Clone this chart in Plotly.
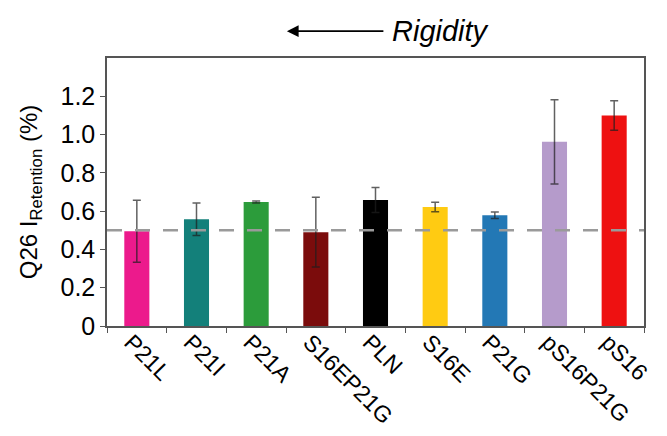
import plotly.graph_objects as go

# Q26 retention intensity per PLN variant
variants = ["P21L", "P21I", "P21A", "S16EP21G", "PLN", "S16E", "P21G", "pS16P21G", "pS16"]
retention = [0.495, 0.558, 0.648, 0.490, 0.658, 0.622, 0.578, 0.962, 1.100]
retention_err = [0.162, 0.085, 0.005, 0.182, 0.065, 0.025, 0.017, 0.220, 0.077]
bar_colors = ["#EC1A8C", "#13807A", "#2C9C3B", "#7B0C0C", "#000000",
              "#FFCB12", "#2378B5", "#B59BCB", "#EE1111"]
reference_level = 0.5

y_ticks = [0, 0.2, 0.4, 0.6, 0.8, 1.0, 1.2]
y_tick_labels = ["0", "0.2", "0.4", "0.6", "0.8", "1.0", "1.2"]

font_family = "Arial, Liberation Sans, Helvetica, sans-serif"
axis_color = "#555555"

fig = go.Figure()
fig.add_trace(go.Bar(
    x=variants,
    y=retention,
    marker=dict(color=bar_colors, line=dict(width=0)),
    width=0.42,
    error_y=dict(type="data", array=retention_err, visible=True,
                 color="rgba(30,30,30,0.7)", thickness=1.5, width=4),
    showlegend=False,
))

# dashed reference level across the full plot width
fig.add_shape(type="line", xref="paper", x0=0, x1=1, yref="y",
              y0=reference_level, y1=reference_level,
              line=dict(color="#9a9a9a", width=2.5, dash="15px,13px"))

# rigidity direction arrow and label above the plot
fig.add_annotation(xref="paper", yref="paper", x=0.335, y=1.10,
                   ax=98, ay=0, axref="pixel", ayref="pixel",
                   text="", showarrow=True, arrowhead=2, arrowsize=1.3,
                   arrowwidth=1.8, arrowcolor="#000000")
fig.add_annotation(xref="paper", yref="paper", x=0.527, y=1.10,
                   xanchor="left", yanchor="middle", showarrow=False,
                   text="<i>Rigidity</i>",
                   font=dict(family=font_family, size=29, color="#000000"))

fig.update_layout(
    width=667, height=436,
    margin=dict(l=107, r=23, t=58, b=110),
    plot_bgcolor="white", paper_bgcolor="white",
    font=dict(family=font_family, size=24, color="#000000"),
)
fig.update_xaxes(
    range=[-0.5, 8.5], automargin=False,
    showline=True, linecolor=axis_color, linewidth=1.5, mirror=True,
    ticks="outside", tickson="boundaries", ticklen=5, tickcolor=axis_color,
    tickangle=45, tickfont=dict(size=23, color="#000000"),
    ticklabelstandoff=-8, ticklabelshift=-6,
    showgrid=False,
)
fig.update_yaxes(
    range=[0, 1.40], automargin=False,
    tickvals=y_ticks, ticktext=y_tick_labels,
    showline=True, linecolor=axis_color, linewidth=1.5, mirror=True,
    ticks="outside", ticklen=5, tickcolor=axis_color,
    tickfont=dict(size=25, color="#000000"),
    showgrid=False, zeroline=False,
    title=dict(text="Q26 I<sub>Retention</sub> (%)",
               font=dict(size=24, color="#000000"), standoff=16),
)

fig.write_html("out.html")
